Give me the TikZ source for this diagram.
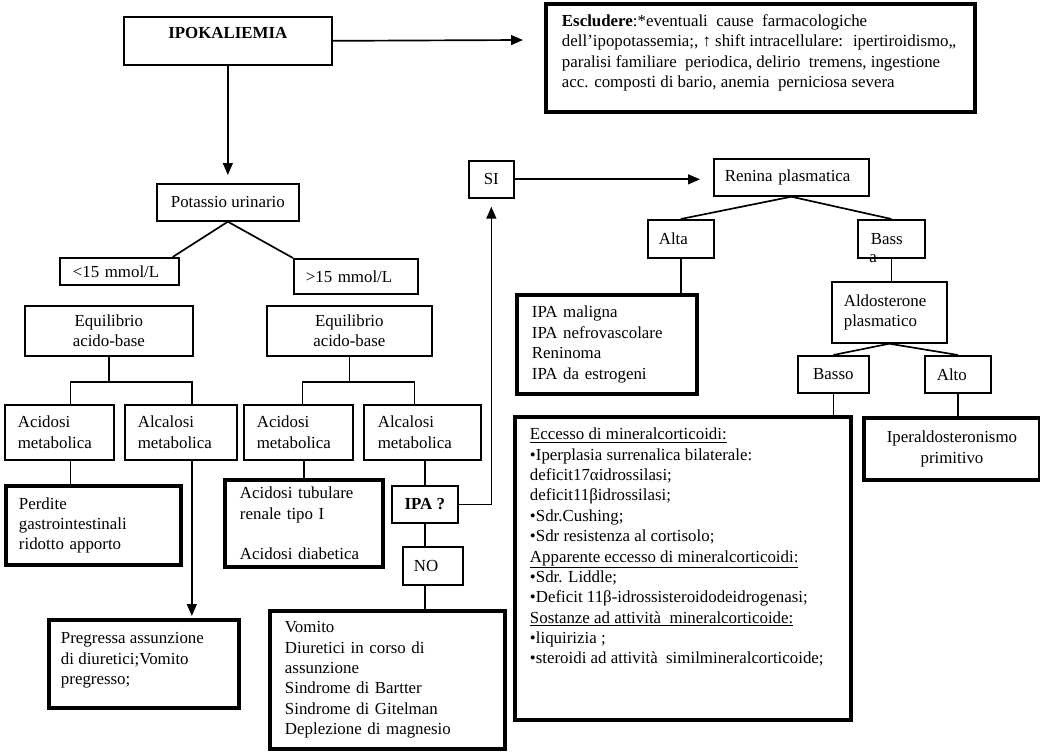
\documentclass[tikz,border=0pt]{standalone}
\usepackage{fontspec}
\setmainfont{Liberation Serif}
\usetikzlibrary{arrows.meta}
\newdimen\px \px=0.025cm
\begin{document}
\begin{tikzpicture}[x=0.025cm,y=-0.025cm]
\tikzstyle{every node}+=[inner sep=0pt,font=\fontsize{12}{14.5}\selectfont]
\tikzstyle{thinbox}=[draw,line width=1.2pt,anchor=north west]
\tikzstyle{thickbox}=[draw,line width=2.8pt,anchor=north west]
\tikzstyle{link}=[line width=1.2pt]
\tikzstyle{arr}=[line width=1.2pt,-{Triangle[length=8.5pt,width=7pt]}]
\useasboundingbox (0,0) rectangle (1040,754);
\node [thinbox,minimum width=208\px,minimum height=48\px] (ipok) at (123,16) {\parbox[t][28\px][t]{208\px}{\centering\textbf{IPOKALIEMIA}}};
\node [thickbox,minimum width=429\px,minimum height=108\px] (excl) at (544,2) {\parbox[t][87\px][t]{397\px}{\raggedright
\mbox{\textbf{Escludere}:*eventuali~ cause~ farmacologiche}\\
\mbox{dell'ipopotassemia;, ↑ shift intracellulare:~ ipertiroidismo,,}\\
\mbox{paralisi familiare~ periodica, delirio~ tremens, ingestione}\\
\mbox{acc. composti di bario, anemia~ perniciosa severa}}};
\coordinate (exclin) at (523,40);
\node [thinbox,minimum width=142\px,minimum height=37\px,align=center] (pot) at (156,183) {Potassio urinario};
\node [thinbox,minimum width=119\px,minimum height=27\px,text width=93\px,align=left] (lt15) at (59,257) {<15 mmol/L};
\node [thinbox,minimum width=124\px,minimum height=35\px,text width=100\px,align=left] (gt15) at (293,258) {>15 mmol/L};
\node [thinbox,minimum width=168\px,minimum height=50\px,align=center] (eqL) at (24,305) {Equilibrio\\acido-base};
\node [thinbox,minimum width=165\px,minimum height=50\px,align=center] (eqR) at (266,305) {Equilibrio\\acido-base};
\node [thinbox,minimum width=109\px,minimum height=55\px,text width=83\px,align=left] (acL) at (4,404) {Acidosi\\metabolica};
\node [thinbox,minimum width=112\px,minimum height=55\px,text width=86\px,align=left] (alL) at (124,404) {Alcalosi\\metabolica};
\node [thinbox,minimum width=109\px,minimum height=55\px,text width=83\px,align=left] (acR) at (243,404) {Acidosi\\metabolica};
\node [thinbox,minimum width=117\px,minimum height=55\px,text width=89\px,align=left] (alR) at (363,404) {Alcalosi\\metabolica};
\node [thickbox,minimum width=175\px,minimum height=79\px,text width=149\px,align=left] (perd) at (4,484) {Perdite\\gastrointestinali\\ridotto apporto};
\node [thickbox,minimum width=190\px,minimum height=88\px] (pregr) at (47,618) {\parbox[t][63\px][t]{166\px}{\raggedright Pregressa assunzione\\di diuretici;Vomito\\pregresso;}};
\node [thickbox,minimum width=158\px,minimum height=87\px,text width=128\px,align=left] (acTub) at (223,478) {Acidosi tubulare\\renale tipo I\\[14.5pt]Acidosi diabetica};
\node [thinbox,minimum width=66\px,minimum height=37\px,align=center] (ipa) at (391,485) {\textbf{IPA ?}};
\node [thinbox,minimum width=60\px,minimum height=38\px,text width=38\px,align=left] (no) at (402,546) {NO};
\node [thickbox,minimum width=235\px,minimum height=138\px,text width=205\px,align=left] (vom) at (268,609) {Vomito\\Diuretici in corso di\\assunzione\\Sindrome di Bartter\\Sindrome di Gitelman\\Deplezione di magnesio};
\node [thinbox,minimum width=45\px,minimum height=37\px,align=center] (si) at (468,160) {SI};
\node [thinbox,minimum width=155\px,minimum height=37\px,text width=133\px,align=left] (ren) at (713,158) {Renina plasmatica};
\node [thinbox,minimum width=66\px,minimum height=38\px,text width=44\px,align=left] (alta) at (647,219) {Alta};
\node [thinbox,minimum width=67\px,minimum height=38\px,text width=41\px,align=left,label={[anchor=center,xshift=16\px]south west:a}] (bassa) at (857,219) {Bass};
\node [thickbox,minimum width=180\px,minimum height=99\px,text width=150\px,align=left] (ipaM) at (515,293) {IPA maligna\\IPA nefrovascolare\\Reninoma\\IPA da estrogeni};
\node [thinbox,minimum width=115\px,minimum height=61\px,text width=91\px,align=left] (aldo) at (831,281) {Aldosterone\\plasmatico};
\node [thinbox,minimum width=71\px,minimum height=37\px,align=center] (basso) at (797,355) {Basso};
\node [thinbox,minimum width=66\px,minimum height=37\px,text width=42\px,align=left] (alto) at (924,355) {Alto};
\node [thickbox,minimum width=176\px,minimum height=62\px,align=center] (iper) at (862,416) {Iperaldosteronismo\\primitivo};
\node [thickbox,minimum width=336\px,minimum height=303\px] (ecc) at (513,415) {\parbox[t][281\px][t]{306\px}{\raggedright
\underline{Eccesso di mineralcorticoidi:}\\
•Iperplasia surrenalica bilaterale:\\
deficit17αidrossilasi;\\
deficit11βidrossilasi;\\
•Sdr.Cushing;\\
•Sdr resistenza al cortisolo;\\
\underline{Apparente eccesso di mineralcorticoidi:}\\
•Sdr. Liddle;\\
•Deficit 11β-idrossisteroidodeidrogenasi;\\
\underline{Sostanze ad attività~ mineralcorticoide:}\\
•liquirizia ;\\
•steroidi ad attività~ similmineralcorticoide;}};
\coordinate (dropL) at ([xshift=11\px]acL.south);
\coordinate (dropA) at ([xshift=11\px]alL.south);
\draw [arr] (ipok.east) -- (exclin);
\draw [arr,shorten >=8\px] (ipok.south) -- (pot.north);
\draw [link] (pot.south) -- ([xshift=-7\px]lt15.north east);
\draw [link] (pot.south) -- (gt15.north west);
\draw [link] (eqL.south) -- ++(0,25) coordinate (bl);
\draw [link] ([xshift=11\px]acL.north) |- (bl) -| ([xshift=11\px]alL.north);
\draw [link] (eqR.south) -- ++(0,25) coordinate (br);
\draw [link] ([xshift=4\px]acR.north) |- (br) -| ([xshift=-8\px]alR.north);
\draw [link] (dropL) -- (dropL |- perd.north);
\draw [arr,shorten >=2\px] (dropA) -- (dropA |- pregr.north);
\draw [link] (acR.south -| acTub.north) -- (acTub.north);
\draw [link] (alR.south -| ipa.north) -- (ipa.north);
\draw [link] (ipa.south) -- (ipa.south |- no.north);
\draw [link] (ipa.south |- no.south) -- (ipa.south |- vom.north);
\draw [arr,shorten >=8\px] (ipa.east) -| (si.south);
\draw [arr,shorten >=13\px] (si.east) -- (si.east -| ren.west);
\draw [link] (ren.south) -- (alta.north);
\draw [link] (ren.south) -- (bassa.north);
\draw [link] (alta.south) -- (alta.south |- ipaM.north);
\draw [link] (bassa.south) -- (bassa.south |- aldo.north);
\draw [link] (aldo.south) -- (basso.north);
\draw [link] (aldo.south) -- (alto.north);
\draw [link] (basso.south) -- (basso.south |- ecc.north);
\draw [link] (alto.south) -- (alto.south |- iper.north);
\end{tikzpicture}
\end{document}
